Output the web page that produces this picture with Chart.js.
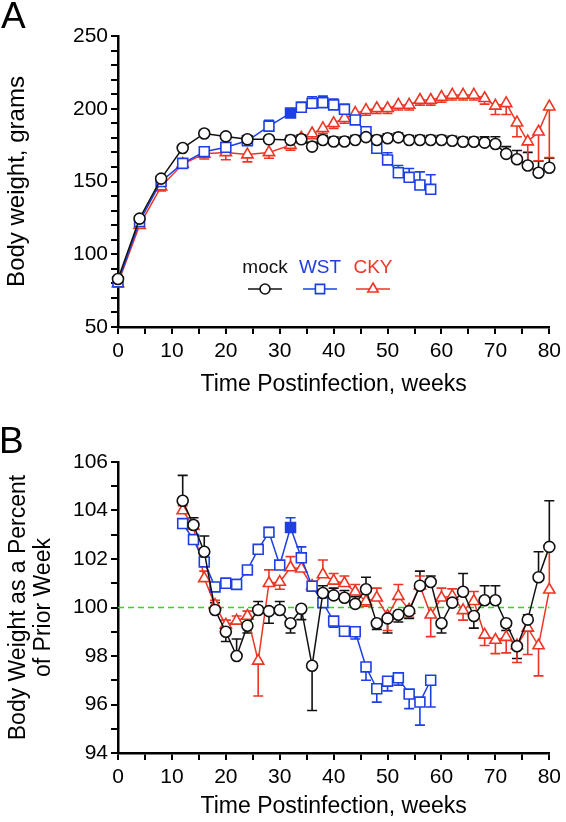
<!DOCTYPE html>
<html>
<head>
<meta charset="utf-8">
<script src="https://cdn.jsdelivr.net/npm/chart.js@4.4.0/dist/chart.umd.min.js"></script>
<style>
  html, body { margin: 0; padding: 0; background: #fff; }
  #wrap { position: relative; width: 566px; height: 822px; overflow: hidden; }
  canvas { position: absolute; left: 0; }
  #chartA { top: 0; }
  #chartB { top: 400px; }
  .panel { position: absolute; left: 0; font-family: 'Liberation Sans', Arial, sans-serif; font-size: 37px; line-height: 1; color: #000; }
</style>
</head>
<body>
<div id="wrap">
  <canvas id="chartA" width="566" height="400"></canvas>
  <canvas id="chartB" width="566" height="422"></canvas>
  <div class="panel" style="top:-3px;left:1px">A</div>
  <div class="panel" style="top:422px;left:-1px">B</div>
</div>
<script>
const seriesNames = ['mock', 'WST', 'CKY'];
const seriesColors = ['#111111', '#1d3fe3', '#ee3524'];
const wstFilledWeeks = [32];

// panel A - body weight in grams
const weeksA = [0, 4, 8, 12, 16, 20, 24, 28, 32, 34, 36, 38, 40, 42, 44, 46, 48, 50,
  52, 54, 56, 58, 60, 62, 64, 66, 68, 70, 72, 74, 76, 78, 80];
const mockWeight = [83, 124.5, 152, 173, 183, 181, 179, 179, 178.5, 179, 174, 178.5, 177.5, 177.5,
  178.5, 180.5, 178.5, 179.7, 180.3, 178.5, 178.5, 178.5, 178.5, 178, 177.3, 177.3, 176.7, 175.8,
  169, 165.3, 161, 156, 159.5];
const mockWeightErr = [2, 2, 2, 2, 2, 2, 2, 2, 3, 3, 3, 3, 3, 3, 3, 3, 3, 3, 3, 3, 3, 3, 3, 3, 3, 3,
  4, 5, 5, 6, 9, 8, 6.5];
const wstWeight = [81, 122.5, 150, 162.5, 170.5, 173.5, 178, 188, 197, 201, 203.7, 204.2, 202.6,
  199.6, 192.3, 184.2, 172.8, 164.8, 156, 152.9, 147.6, 144.6];
const wstWeightErr = [2, 2, 2, 2.5, 2.5, 3, 3, 4, 3, 3.5, 4.5, 4.5, 4, 3.5, 3, 3, 4, 5, 5, 6, 9, 10];
const ckyWeight = [80, 120, 146.5, 162, 169, 170, 168.5, 170, 175, 180, 183, 186.5, 190, 193.5, 197,
  199, 200.3, 200.3, 202.6, 202.6, 206, 206, 208, 209.5, 209.5, 209.5, 207.2, 202, 203.7, 190.4,
  177.4, 184.2, 201.4];
const ckyWeightErr = [-2, -2, -3, -3, -3.5, -5, -5, -4, -3.5, -3.5, -3.5, -3.5, -3.5, -3.5, -3.5,
  -3.5, -3.5, -3.5, -3.5, -3.5, -3.5, -3.5, -3.5, -3.5, -3.5, -3.5, -4, -6, -7.7, -9.6, -14, -20, -35];

// panel B - weight as percent of prior week
const weeksB = [12, 14, 16, 18, 20, 22, 24, 26, 28, 30, 32, 34, 36, 38, 40, 42, 44, 46, 48, 50,
  52, 54, 56, 58, 60, 62, 64, 66, 68, 70, 72, 74, 76, 78, 80];
const mockPct = [104.4, 103.4, 102.3, 99.9, 99.0, 98.0, 99.25, 99.9, 99.85, 99.9, 99.35, 99.95, 97.6,
  100.6, 100.5, 100.4, 100.15, 100.75, 99.35, 99.55, 99.7, 99.85, 100.9, 101.05, 99.35, 100.2,
  100.65, 99.65, 100.3, 100.3, 99.35, 98.4, 99.5, 101.25, 102.5];
const mockPctErr = [1.05, 0.3, 0.65, 0.3, -0.4, 0.7, -0.3, 0.35, -0.5, 0.35, -0.4, -0.45, -1.85, 0.3,
  0.3, 0.3, 0.3, 0.5, -0.25, -0.6, -0.3, -0.3, 0.6, 0.25, -0.4, 0.2, 0.75, -0.5, 0.6, 0.6, -0.3,
  -0.5, 0.2, 1.05, 1.9];
const wstPct = [103.46, 102.8, 101.88, 100.85, 101.0, 100.95, 101.55, 102.4, 103.1, 101.75, 103.3,
  102.05, 100.88, 100.2, 99.44, 99.02, 99.0, 97.55, 96.65, 96.96, 97.1, 96.43, 96.1, 97.0];
const wstPctErr = [0.15, 0.15, 0.15, 0.15, 0.2, 0.2, 0.15, 0.15, 0.2, 0.15, 0.4, 0.45, 0.15, 0.15,
  -0.25, -0.2, -0.3, -0.55, -0.55, -0.4, -0.3, -0.6, -0.95, -1.1];
const ckyPct = [104.0, 103.35, 101.2, 100.1, 99.28, 99.45, 99.65, 97.8, 101.0, 101.05, 101.65, 101.6,
  100.88, 101.36, 101.1, 101.0, 100.65, 100.25, 100.4, 99.65, 100.47, 99.9, 100.9, 99.7, 100.4,
  100.47, 99.88, 100.26, 98.87, 98.66, 98.78, 98.43, 99.16, 98.43, 100.73];
const ckyPctErr = [0.2, 0.2, 0.3, 0.2, 0.2, 0.2, 0.2, -1.45, 0.55, -0.3, 0.45, 0.3, 0.2, 0.6, 0.3, 0.3,
  0.3, -0.2, 0.4, -0.6, 0.48, -0.3, 0.4, -0.9, 0.4, 0.3, -0.4, 0.4, -0.44, -0.56, -0.65, -0.7, -1.1,
  -1.25, 1.7];
const refLineWeeks = [0, 80];
const refLineValue = 100;

const FONT = "'Liberation Sans', Arial, sans-serif";
Chart.defaults.font.family = FONT;
Chart.defaults.color = '#000';

const pointStyles = ['circle', 'rect', 'triangle'];
const pointRadii = [5.5, 7, 6.5];

function toPoints(xs, ys) {
  return ys.map((y, i) => ({ x: xs[i], y: y }));
}

function series(idx, xs, ys, errs) {
  const color = seriesColors[idx];
  return {
    label: seriesNames[idx],
    data: toPoints(xs, ys),
    errors: errs,
    borderColor: color,
    borderWidth: 1.5,
    pointStyle: pointStyles[idx],
    pointRadius: pointRadii[idx],
    pointBorderWidth: 1.6,
    pointBorderColor: color,
    pointBackgroundColor: ctx => (idx === 1 && ctx.raw && wstFilledWeeks.includes(ctx.raw.x)) ? color : '#fff',
    tension: 0,
    clip: false
  };
}

// vertical error bars, one side only, drawn under the markers
const errorBars = {
  id: 'errorBars',
  beforeDatasetsDraw(chart) {
    const ctx = chart.ctx;
    const yScale = chart.scales.y;
    chart.data.datasets.forEach((ds, i) => {
      if (!ds.errors) return;
      const meta = chart.getDatasetMeta(i);
      ctx.save();
      ctx.strokeStyle = ds.borderColor;
      ctx.lineWidth = 1.6;
      meta.data.forEach((pt, j) => {
        const e = ds.errors[j];
        if (!e) return;
        const y1 = yScale.getPixelForValue(ds.data[j].y + e);
        ctx.beginPath();
        ctx.moveTo(pt.x, pt.y);
        ctx.lineTo(pt.x, y1);
        ctx.moveTo(pt.x - 5, y1);
        ctx.lineTo(pt.x + 5, y1);
        ctx.stroke();
      });
      ctx.restore();
    });
  }
};

// legend: name above, line + symbol below
const symbolLegend = {
  id: 'symbolLegend',
  afterDraw(chart) {
    const spots = [265, 320, 373];
    const ctx = chart.ctx;
    ctx.save();
    ctx.font = '19px ' + FONT;
    ctx.textAlign = 'center';
    ctx.textBaseline = 'middle';
    seriesNames.forEach((name, i) => {
      const cx = spots[i];
      ctx.fillStyle = seriesColors[i];
      ctx.fillText(name, cx, 268);
      ctx.strokeStyle = seriesColors[i];
      ctx.lineWidth = 1.5;
      ctx.beginPath();
      ctx.moveTo(cx - 17, 289);
      ctx.lineTo(cx + 17, 289);
      ctx.stroke();
      ctx.fillStyle = '#fff';
      ctx.lineWidth = 1.6;
      Chart.helpers.drawPoint(ctx, { pointStyle: pointStyles[i], radius: pointRadii[i] - 0.5, borderWidth: 1.6, rotation: 0 }, cx, 289);
    });
    ctx.restore();
  }
};

function makeOptions(o) {
  return {
    responsive: false,
    animation: false,
    devicePixelRatio: 1,
    layout: { padding: { left: 0, top: o.top, right: 14, bottom: 0 } },
    plugins: { legend: { display: false }, tooltip: { enabled: false } },
    scales: {
      x: {
        type: 'linear', min: 0, max: 80,
        border: { color: '#000', width: 2.5 },
        grid: { drawOnChartArea: false, drawTicks: true, tickLength: 7, color: '#000', lineWidth: 2 },
        ticks: {
          stepSize: 5, autoSkip: false, maxRotation: 0, padding: 5,
          font: { size: 21 }, color: '#000',
          callback: v => (v % 10 === 0 ? v : '')
        },
        title: { display: true, text: 'Time Postinfection, weeks', font: { size: 23 }, color: '#000', padding: { top: 0, bottom: 2 } },
        afterFit: s => { s.height = o.xHeight; }
      },
      y: {
        type: 'linear', min: o.yMin, max: o.yMax,
        border: { color: '#000', width: 2.5 },
        grid: { drawOnChartArea: false, drawTicks: true, tickLength: 7, color: '#000', lineWidth: 2 },
        ticks: {
          stepSize: o.yMinor, autoSkip: false, padding: 3,
          font: { size: 21 }, color: '#000',
          callback: v => (Math.abs(v % o.yMajor) < 1e-6 ? v : '')
        },
        title: { display: true, text: o.yTitle, font: { size: o.yTitleSize, lineHeight: 1.1 }, color: '#000', padding: { top: o.yTitlePad, bottom: 0 } },
        afterFit: s => { s.width = 118; }
      }
    }
  };
}

new Chart(document.getElementById('chartA'), {
  type: 'line',
  data: {
    datasets: [
      series(0, weeksA, mockWeight, mockWeightErr),
      series(1, weeksA, wstWeight, wstWeightErr),
      series(2, weeksA, ckyWeight, ckyWeightErr)
    ]
  },
  options: makeOptions({ top: 36, xHeight: 73, yMin: 50, yMax: 250, yMinor: 10, yMajor: 50,
    yTitle: 'Body weight, grams', yTitleSize: 24, yTitlePad: 4 }),
  plugins: [errorBars, symbolLegend]
});

new Chart(document.getElementById('chartB'), {
  type: 'line',
  data: {
    datasets: [
      series(0, weeksB, mockPct, mockPctErr),
      series(1, weeksB, wstPct, wstPctErr),
      series(2, weeksB, ckyPct, ckyPctErr),
      {
        label: 'ref',
        data: refLineWeeks.map(w => ({ x: w, y: refLineValue })),
        borderColor: '#22dd22',
        borderWidth: 1.5,
        borderDash: [6, 4],
        pointRadius: 0,
        clip: false
      }
    ]
  },
  options: makeOptions({ top: 62, xHeight: 69, yMin: 94, yMax: 106, yMinor: 1, yMajor: 2,
    yTitle: ['Body Weight as a Percent', 'of Prior Week'], yTitleSize: 23, yTitlePad: 6 }),
  plugins: [errorBars]
});
</script>
</body>
</html>
